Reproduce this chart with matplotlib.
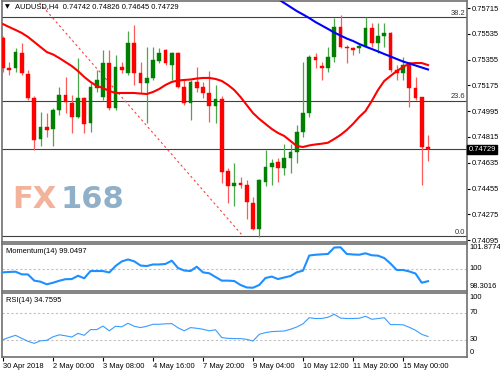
import matplotlib
matplotlib.use("Agg")
import matplotlib.pyplot as plt
import numpy as np

# ---------------- data ----------------
opens = [0.75506,0.75296,0.75296,0.75401,0.75254,0.75087,0.74801,0.74885,0.74871,0.75003,
         0.75108,0.75052,0.74955,0.75087,0.74913,0.75157,0.75094,0.75331,0.75017,0.75303,
         0.75261,0.75471,0.75261,0.75192,0.75227,0.75345,0.75422,0.75317,0.75401,0.75164,
         0.75052,0.75199,0.75164,0.75122,0.75031,0.75080,0.74578,0.74473,0.74494,0.74480,
         0.74355,0.74173,0.74501,0.74606,0.74641,0.74599,0.74668,0.74710,0.74850,0.74982,
         0.75373,0.75310,0.75296,0.75373,0.75582,0.75443,0.75436,0.75436,0.75450,0.75575,
         0.75471,0.75520,0.75541,0.75282,0.75261,0.75331,0.75157,0.75094,0.74742]
highs = [0.75520,0.75338,0.75436,0.75471,0.75282,0.75101,0.74989,0.74982,0.75017,0.75164,
         0.75234,0.75108,0.75366,0.75094,0.75192,0.75282,0.75422,0.75422,0.75387,0.75338,
         0.75555,0.75596,0.75338,0.75443,0.75443,0.75436,0.75429,0.75408,0.75408,0.75213,
         0.75213,0.75303,0.75199,0.75275,0.75178,0.75101,0.74599,0.74634,0.74536,0.74515,
         0.74396,0.74522,0.74724,0.74661,0.74668,0.74766,0.74766,0.74899,0.75338,0.75387,
         0.75401,0.75338,0.75443,0.75645,0.75666,0.75457,0.75443,0.75464,0.75652,0.75610,
         0.75610,0.75610,0.75548,0.75317,0.75373,0.75338,0.75234,0.75094,0.74826]
lows = [0.75268,0.75248,0.75268,0.75248,0.75073,0.74724,0.74752,0.74815,0.74752,0.74968,
        0.74982,0.74843,0.74948,0.74843,0.74850,0.75129,0.75073,0.75003,0.75003,0.75261,
        0.75248,0.75178,0.75122,0.74913,0.75213,0.75331,0.75317,0.75213,0.75157,0.75038,
        0.74934,0.75129,0.75087,0.74920,0.74913,0.74494,0.74355,0.74334,0.74459,0.74243,
        0.74166,0.74120,0.74473,0.74480,0.74501,0.74550,0.74564,0.74634,0.74815,0.74955,
        0.75296,0.75213,0.75268,0.75338,0.75436,0.75331,0.75387,0.75401,0.75443,0.75443,
        0.75401,0.75443,0.75268,0.75213,0.75213,0.75024,0.75073,0.74480,0.74645]
closes = [0.75296,0.75282,0.75408,0.75261,0.75087,0.74794,0.74885,0.74864,0.75003,0.75108,
          0.75059,0.74955,0.75087,0.74906,0.75164,0.75213,0.75331,0.75017,0.75303,0.75282,
          0.75471,0.75261,0.75192,0.75227,0.75352,0.75401,0.75331,0.75401,0.75164,0.75052,
          0.75199,0.75157,0.75122,0.75031,0.75080,0.74571,0.74473,0.74494,0.74480,0.74362,
          0.74173,0.74515,0.74606,0.74634,0.74599,0.74668,0.74710,0.74850,0.74982,0.75373,
          0.75352,0.75296,0.75373,0.75582,0.75443,0.75436,0.75422,0.75450,0.75575,0.75471,
          0.75520,0.75541,0.75282,0.75261,0.75317,0.75157,0.75087,0.74742,0.74729]

ma_red = [0.75603,0.75582,0.75562,0.75541,0.75513,0.75478,0.75443,0.75408,0.75391,0.75366,
          0.75338,0.75310,0.75275,0.75234,0.75199,0.75171,0.75157,0.75136,0.75122,0.75122,
          0.75122,0.75122,0.75118,0.75115,0.75129,0.75150,0.75178,0.75199,0.75209,0.75213,
          0.75216,0.75223,0.75227,0.75227,0.75220,0.75206,0.75178,0.75143,0.75094,0.75038,
          0.74982,0.74941,0.74906,0.74871,0.74843,0.74822,0.74787,0.74752,0.74745,0.74756,
          0.74763,0.74768,0.74775,0.74801,0.74829,0.74864,0.74906,0.74955,0.74996,0.75066,
          0.75143,0.75206,0.75241,0.75275,0.75303,0.75328,0.75331,0.75331,0.75317]
ma_blue_start = 43
ma_blue = [0.75806,0.75778,0.75750,0.75722,0.75694,0.75670,0.75645,0.75617,0.75593,0.75569,
           0.75544,0.75523,0.75502,0.75485,0.75464,0.75446,0.75429,0.75412,0.75394,0.75377,
           0.75359,0.75342,0.75328,0.75314,0.75300,0.75286]

momentum = [99.72,99.75,99.77,99.57,99.56,99.09,99.01,98.81,98.93,99.08,
            99.20,99.21,99.46,99.27,99.82,99.82,99.82,99.71,100.20,100.55,
            100.70,100.56,100.24,100.20,100.32,100.32,100.36,100.61,100.05,99.86,
            99.82,100.15,99.72,99.65,99.37,99.09,99.09,99.06,98.76,98.57,
            98.55,98.76,99.29,99.40,99.21,99.33,99.44,99.72,99.85,101.00,
            101.06,101.09,101.12,101.61,101.63,101.12,101.08,101.06,101.17,101.02,
            100.99,100.81,100.39,99.90,99.90,99.79,99.63,98.93,99.0497]
rsi = [30.1,33.5,36.5,32.0,27.5,24.5,28.3,29.0,34.3,37.3,
       35.8,34.0,39.5,36.5,45.1,45.1,50.4,43.3,50.1,49.3,
       54.6,50.1,48.1,50.1,53.1,53.1,53.8,54.1,47.8,43.3,
       48.1,47.1,45.6,43.3,44.8,33.1,32.0,31.6,31.6,30.5,
       28.0,38.0,40.6,42.1,42.6,43.0,45.6,49.0,53.8,62.9,
       61.7,61.8,63.6,68.1,62.4,61.7,61.8,62.1,65.1,60.6,
       61.7,62.9,52.6,52.6,52.3,48.6,44.1,38.0,34.7595]

fib_low = 0.74123
fib_high = 0.78119
fib_levels = [0.0, 23.6, 38.2, 50.0, 61.8, 100.0]
fib_anchor_bars = [-41.5, 38.4]

price_ticks = [0.75715,0.75535,0.75355,0.75175,0.74995,0.74815,0.74635,0.74455,0.74275,0.74095]
date_tick_bars = [0, 8, 16, 24, 32, 40, 48, 56, 64]
date_labels = ["30 Apr 2018", "2 May 00:00", "3 May 08:00", "4 May 16:00", "7 May 20:00",
               "9 May 04:00", "10 May 12:00", "11 May 20:00", "15 May 00:00"]
header = "AUDUSD,H4  0.74742 0.74826 0.74645 0.74729"
last_price = 0.74729
mom_max, mom_min = 101.8774, 98.3016

# ---------------- style ----------------
FONT = ['Liberation Sans', 'DejaVu Sans']
FS = 5.4
plt.rcParams['font.family'] = FONT
plt.rcParams['font.size'] = FS

W, H = 500, 375
fig = plt.figure(figsize=(5, 3.75), dpi=100)
fig.patch.set_facecolor('white')

def fa(x0, y0, x1, y1):
    return [x0 / W, 1 - y1 / H, (x1 - x0) / W, (y1 - y0) / H]

XL = (-0.16, 74.24)
SP = '#707070'

ax = fig.add_axes(fa(2, 1, 467, 242))
axm = fig.add_axes(fa(2, 244, 467, 291))
axr = fig.add_axes(fa(2, 293, 467, 357))
for a in (ax, axm, axr):
    a.set_xlim(*XL)
    a.set_facecolor('white')
    for s in a.spines.values():
        s.set_color(SP)
        s.set_linewidth(1.2)
    a.tick_params(axis='x', which='both', bottom=False, labelbottom=False)

# ---------------- main panel ----------------
YL = (0.74082, 0.75764)
ax.set_ylim(*YL)
n = len(opens)
x = np.arange(n)
o = np.array(opens); c = np.array(closes); h = np.array(highs); l = np.array(lows)
up = c >= o
GREEN, GREEN_W = '#008000', '#4aa84a'
RED, RED_W = '#ff0000', '#ff5a5a'
ax.vlines(x[up], l[up], h[up], color=GREEN_W, lw=0.9, zorder=3)
ax.vlines(x[~up], l[~up], h[~up], color=RED_W, lw=0.9, zorder=3)
bh = np.maximum(np.abs(c - o), 0.00002)
bot = np.minimum(o, c)
ax.bar(x[up], bh[up], bottom=bot[up], width=0.62, color=GREEN, edgecolor=GREEN, lw=0.3, zorder=4)
ax.bar(x[~up], bh[~up], bottom=bot[~up], width=0.62, color=RED, edgecolor=RED, lw=0.3, zorder=4)

ax.plot(x, ma_red, color='#ff0000', lw=1.5, zorder=5)
xb = np.arange(ma_blue_start, ma_blue_start + len(ma_blue))
ax.plot(xb, ma_blue, color='#0000ff', lw=1.5, zorder=5)

# fibonacci
rng = fib_high - fib_low
for lv in fib_levels:
    p = fib_low + rng * lv / 100.0
    if not (YL[0] <= p <= YL[1]):
        continue
    ax.axhline(p, color='#404040', lw=0.8, zorder=2)
    ax.text(XL[1] - 0.3, p + 0.00004, f"{lv:.1f}", ha='right', va='bottom', fontsize=FS,
            color='#303030', zorder=6)
ax.plot(fib_anchor_bars, [fib_high, fib_low], color='#ff4040', lw=0.8,
        linestyle=(0, (2, 2.5)), zorder=2)

# current price line
ax.axhline(last_price, color='#404040', lw=0.8, zorder=2)

ax.yaxis.tick_right()
ax.set_yticks(price_ticks)
ax.set_yticklabels([f"{v:.5f}" for v in price_ticks])
ax.tick_params(axis='y', length=2, width=0.8, pad=1.5, labelsize=FS, colors='black')
ax.text(1.003, last_price, f"{last_price:.5f}", transform=ax.get_yaxis_transform(),
        ha='left', va='center', fontsize=FS, color='white', zorder=10, clip_on=False,
        bbox=dict(boxstyle='square,pad=0.15', fc='black', ec='black'))

ax.text(3 / 465, 1 - 6 / 241, "▼", transform=ax.transAxes, ha='left', va='center',
        fontsize=4.5, family=['DejaVu Sans'], color='black')
ax.text(13 / 465, 1 - 6 / 241, header, transform=ax.transAxes, ha='left', va='center',
        fontsize=FS, color='black')

# watermark
fig.text(12 / W, 1 - 208 / H, "FX", ha='left', va='baseline', fontsize=22,
         fontweight='bold', family=['DejaVu Sans'], color='#f2b39a', zorder=1)
fig.text(61 / W, 1 - 208 / H, "168", ha='left', va='baseline', fontsize=22,
         fontweight='bold', family=['DejaVu Sans'], color='#8fb0c8', zorder=1)

# ---------------- momentum ----------------
axm.set_ylim(mom_min, mom_max)
axm.plot(x, momentum, color='#1e8fff', lw=1.5, zorder=3)
axm.axhline(100, color='#c0c0c0', lw=0.8, linestyle=(0, (2, 2)), zorder=1)
axm.set_yticks([])
axm.text(4 / 465, 1 - 7 / 47, f"Momentum(14) {momentum[-1]:.4f}", transform=axm.transAxes,
         ha='left', va='center', fontsize=FS)
axm.text(1.006, 1.0, f"{mom_max:.4f}", transform=axm.transAxes, ha='left', va='top', fontsize=FS)
axm.text(1.006, 100, "100", transform=axm.get_yaxis_transform(), ha='left', va='center', fontsize=FS)
axm.text(1.006, 0.03, f"{mom_min:.4f}", transform=axm.transAxes, ha='left', va='bottom', fontsize=FS)

# ---------------- RSI ----------------
axr.set_ylim(4, 100)
axr.plot(x, rsi, color='#3a9cff', lw=0.8, zorder=3)
for lv in (70, 30):
    axr.axhline(lv, color='#c0c0c0', lw=0.8, linestyle=(0, (2, 2)), zorder=1)
axr.set_yticks([])
axr.text(4 / 465, 1 - 7 / 64, f"RSI(14) {rsi[-1]:.4f}", transform=axr.transAxes,
         ha='left', va='center', fontsize=FS)
axr.text(1.006, 0.985, "100", transform=axr.transAxes, ha='left', va='top', fontsize=FS)
for lv in (70, 30):
    axr.text(1.006, lv, str(lv), transform=axr.get_yaxis_transform(), ha='left', va='center', fontsize=FS)
axr.text(1.006, 0.02, "0", transform=axr.transAxes, ha='left', va='bottom', fontsize=FS)

axr.tick_params(axis='x', which='both', bottom=True, labelbottom=True, length=3, width=0.8,
                pad=1.5, labelsize=FS, colors='black')
axr.set_xticks(date_tick_bars)
axr.set_xticklabels(date_labels)
for t in axr.get_xticklabels():
    t.set_ha('left')

fig.savefig("out.png", dpi=100, facecolor='white')
